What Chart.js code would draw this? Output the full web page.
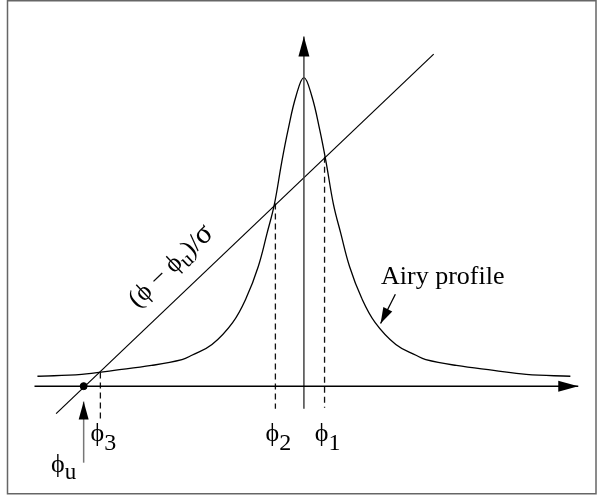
<!DOCTYPE html>
<html>
<head>
<meta charset="UTF-8">
<title>Airy profile</title>
<script src="https://cdn.jsdelivr.net/npm/chart.js@4.4.0/dist/chart.umd.min.js"></script>
<style>
  html, body { margin: 0; padding: 0; background: #fff; }
  canvas { display: block; }
</style>
</head>
<body>
<canvas id="airy" width="597" height="495"></canvas>
<script>
// Airy transmission profile, sampled along the phase axis (peak normalised to 1)
const profileX = [-5.42, -4.52, -3.86, -3.10, -2.48, -2.28, -1.87, -1.45, -1.17, -0.93, -0.75, -0.60, -0.45, -0.32, -0.16, 0,
                  0.16, 0.32, 0.45, 0.60, 0.75, 0.93, 1.17, 1.45, 1.87, 2.28, 2.48, 3.10, 3.86, 4.52, 5.42];
const profileY = [0.032, 0.038, 0.051, 0.067, 0.086, 0.100, 0.135, 0.206, 0.287, 0.387, 0.495, 0.590, 0.727, 0.832, 0.940, 1.0,
                  0.940, 0.832, 0.727, 0.590, 0.495, 0.387, 0.287, 0.206, 0.135, 0.100, 0.086, 0.067, 0.051, 0.038, 0.032];

// straight line (phi - phi_u)/sigma, end points
const rampX = [-5.04, 2.64];
const rampY = [-0.089, 1.076];

// axes
const axisX = [-5.48, 5.58];
const axisY = [-0.073, 1.133];

// phi_u and the three crossings phi_3, phi_2, phi_1
const phiU = -4.48;
const crossNames = ['3', '2', '1'];
const crossX = [-4.14, -0.58, 0.42];
const crossTop = [0.044, 0.592, 0.743];
const crossBottom = [-0.108, -0.073, -0.070];

// pointer arrows: phi_u marker and "Airy profile" callout
const phiUArrowY = [-0.248, -0.05];
const calloutX = [1.86, 1.56];
const calloutY = [0.298, 0.203];

const SERIF = '"Liberation Serif", "DejaVu Serif", serif';

function seg(xs, ys, extra) {
  return Object.assign({
    data: xs.map((x, i) => ({ x, y: ys[i] })),
    showLine: true,
    pointRadius: 0,
    borderColor: '#000',
    borderWidth: 1.2,
    fill: false,
  }, extra || {});
}

const datasets = [
  seg(axisX, [0, 0], { borderWidth: 1.5, arrow: [20, 5.5] }),
  seg([0, 0], axisY, { borderColor: '#444', borderWidth: 1.5, arrow: [20, 5.5] }),
  seg(profileX, profileY, { borderWidth: 1.3, tension: 0.4 }),
  seg(rampX, rampY, { borderWidth: 1.2 }),
];
crossX.forEach((x, i) => {
  datasets.push(seg([x, x], [crossTop[i], crossBottom[i]], { borderColor: '#111', borderWidth: 1.3, borderDash: [6, 4] }));
});
datasets.push(seg([phiU, phiU], phiUArrowY, { borderColor: '#777', borderWidth: 1.5, arrow: [18, 5] }));
datasets.push(seg(calloutX, calloutY, { borderWidth: 1.3, arrow: [16, 5] }));
datasets.push({
  data: [{ x: phiU, y: 0 }],
  showLine: false,
  pointRadius: 3.5,
  pointBackgroundColor: '#000',
  pointBorderColor: '#000',
});

// grey frame round the drawing
const frame = {
  id: 'frame',
  beforeDraw(chart) {
    const c = chart.ctx;
    c.save();
    c.fillStyle = '#fff';
    c.fillRect(0, 0, chart.width, chart.height);
    c.strokeStyle = '#666';
    c.lineWidth = 1.5;
    c.strokeRect(7.5, 0.75, 588.5, 493);
    c.restore();
  }
};

// filled arrow heads on datasets that ask for one
const arrowHeads = {
  id: 'arrowHeads',
  afterDatasetsDraw(chart) {
    const c = chart.ctx;
    chart.data.datasets.forEach((ds, i) => {
      if (!ds.arrow) return;
      const pts = chart.getDatasetMeta(i).data;
      const a = pts[pts.length - 2], b = pts[pts.length - 1];
      const ang = Math.atan2(b.y - a.y, b.x - a.x);
      const [len, half] = ds.arrow;
      c.save();
      c.translate(b.x, b.y);
      c.rotate(ang);
      c.fillStyle = '#000';
      c.beginPath();
      c.moveTo(0, 0);
      c.lineTo(-len, -half);
      c.lineTo(-len, half);
      c.closePath();
      c.fill();
      c.restore();
    });
  }
};

function drawSubscripted(c, cx, base, main, sub, mainSize, subSize, drop) {
  c.font = mainSize + 'px ' + SERIF;
  const w1 = c.measureText(main).width;
  c.font = subSize + 'px ' + SERIF;
  const w2 = c.measureText(sub).width;
  let x = cx - (w1 + w2) / 2;
  c.font = mainSize + 'px ' + SERIF;
  c.fillText(main, x, base);
  c.font = subSize + 'px ' + SERIF;
  c.fillText(sub, x + w1, base + drop);
}

const labels = {
  id: 'labels',
  afterDraw(chart) {
    const c = chart.ctx;
    const xs = chart.scales.x, ys = chart.scales.y;
    c.save();
    c.fillStyle = '#000';
    c.textAlign = 'left';
    c.textBaseline = 'alphabetic';

    // phi_3, phi_2, phi_1 under the dashed lines
    crossX.forEach((x, i) => {
      drawSubscripted(c, xs.getPixelForValue(x) + 3, 441, '\u03D5', crossNames[i], 26, 24, 9);
    });
    // phi_u under its arrow
    drawSubscripted(c, xs.getPixelForValue(phiU) - 20, 472, '\u03D5', 'u', 26, 23, 7);

    c.font = '26px ' + SERIF;
    c.fillText('Airy profile', 381, 284);

    // label written along the ramp line
    const p0x = xs.getPixelForValue(rampX[0]), p0y = ys.getPixelForValue(rampY[0]);
    const p1x = xs.getPixelForValue(rampX[1]), p1y = ys.getPixelForValue(rampY[1]);
    const ang = Math.atan2(p1y - p0y, p1x - p0x);
    const t = (-2.32 - rampX[0]) / (rampX[1] - rampX[0]);
    c.translate(p0x + t * (p1x - p0x), p0y + t * (p1y - p0y));
    c.rotate(ang);
    const parts = [
      ['(\u03D5 \u2212 \u03D5', 26, 0],
      ['u', 21, 5],
      [')/', 26, 0],
      ['\u03C3', 30, 0],
    ];
    let total = 0;
    parts.forEach(p => { c.font = p[1] + 'px ' + SERIF; p.push(c.measureText(p[0]).width); total += p[3]; });
    let x = -total / 2;
    parts.forEach(p => {
      c.font = p[1] + 'px ' + SERIF;
      c.fillText(p[0], x, -20 + p[2]);
      x += p[3];
    });
    c.restore();
  }
};

new Chart(document.getElementById('airy'), {
  type: 'scatter',
  data: { datasets },
  options: {
    responsive: false,
    animation: false,
    events: [],
    layout: { padding: 0 },
    plugins: { legend: { display: false }, tooltip: { enabled: false } },
    scales: {
      x: { type: 'linear', display: false, min: -6.08, max: 5.86 },
      y: { type: 'linear', display: false, min: -0.3365, max: 1.235 },
    },
  },
  plugins: [frame, arrowHeads, labels],
});
</script>
</body>
</html>
